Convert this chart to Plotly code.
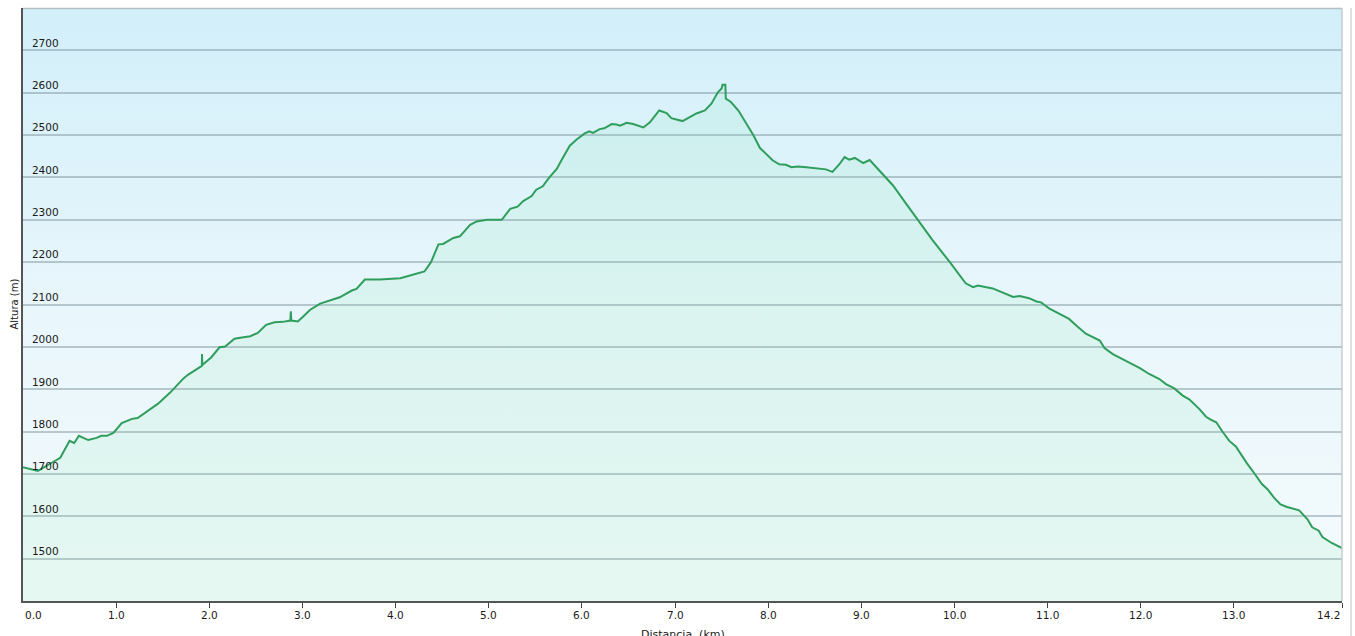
import base64
import plotly.graph_objects as go

distance_km = [
    0.00, 0.16, 0.29, 0.40, 0.50, 0.55, 0.60, 0.70, 0.79, 0.84, 0.90, 0.97,
    1.06, 1.17, 1.23, 1.34, 1.45, 1.58, 1.72, 1.77, 1.87, 1.92, 1.922, 1.925,
    2.02, 2.11, 2.17, 2.27, 2.35, 2.44, 2.52, 2.61, 2.70, 2.79, 2.87, 2.875,
    2.88, 2.95, 3.00, 3.08, 3.19, 3.29, 3.40, 3.53, 3.58, 3.67, 3.83, 4.05,
    4.12, 4.22, 4.31, 4.38, 4.46, 4.51, 4.62, 4.69, 4.74, 4.80, 4.87, 4.98,
    5.08, 5.14, 5.23, 5.31, 5.37, 5.46, 5.51, 5.58, 5.64, 5.73, 5.80, 5.87,
    5.94, 6.03, 6.08, 6.12, 6.19, 6.24, 6.32, 6.37, 6.41, 6.48, 6.55, 6.66,
    6.73, 6.78, 6.83, 6.91, 6.96, 7.08, 7.16, 7.23, 7.32, 7.39, 7.46, 7.50,
    7.51, 7.54, 7.545, 7.60, 7.68, 7.77, 7.84, 7.91, 7.98, 8.05, 8.12, 8.19,
    8.25, 8.32, 8.41, 8.52, 8.62, 8.69, 8.76, 8.82, 8.87, 8.93, 9.02, 9.09,
    9.20, 9.34, 9.48, 9.62, 9.76, 9.95, 10.12, 10.20, 10.25, 10.41, 10.55,
    10.63, 10.70, 10.80, 10.88, 10.93, 11.02, 11.13, 11.23, 11.31, 11.41,
    11.56, 11.61, 11.70, 11.81, 11.88, 11.99, 12.09, 12.20, 12.27, 12.36,
    12.45, 12.52, 12.63, 12.70, 12.75, 12.81, 12.88, 12.95, 13.02, 13.07,
    13.14, 13.22, 13.30, 13.36, 13.43, 13.50, 13.57, 13.70, 13.79, 13.84,
    13.91, 13.95, 14.05, 14.16,
]
altitude_m = [
    1716, 1707, 1724, 1738, 1778, 1773, 1790, 1780, 1785, 1790, 1790, 1797,
    1820, 1830, 1832, 1849, 1866, 1892, 1925, 1934, 1948, 1955, 1983, 1957,
    1975, 1999, 2001, 2019, 2022, 2025, 2033, 2052, 2058, 2059, 2062, 2084,
    2062, 2060, 2070, 2087, 2102, 2109, 2117, 2133, 2137, 2159, 2159, 2162,
    2166, 2172, 2178, 2200, 2242, 2243, 2257, 2261, 2273, 2288, 2296, 2300,
    2300, 2300, 2326, 2331, 2344, 2356, 2371, 2379, 2397, 2420, 2448, 2475,
    2489, 2504, 2509, 2505, 2514, 2516, 2526, 2525, 2522, 2529, 2526, 2518,
    2530, 2544, 2558, 2552, 2540, 2533, 2542, 2551, 2558, 2574, 2601, 2610,
    2619, 2619, 2586, 2578, 2558, 2527, 2500, 2470, 2456, 2440, 2431, 2430,
    2424, 2426, 2424, 2422, 2419, 2413, 2430, 2448, 2442, 2446, 2434, 2441,
    2414, 2381, 2338, 2294, 2253, 2200, 2150, 2141, 2145, 2138, 2125,
    2118, 2120, 2115, 2107, 2105, 2090, 2078, 2066, 2050, 2031,
    2015, 1997, 1983, 1971, 1962, 1950, 1936, 1924, 1912, 1902,
    1885, 1876, 1853, 1835, 1828, 1822, 1799, 1778, 1765, 1747,
    1725, 1701, 1676, 1664, 1644, 1628, 1622, 1614, 1593, 1574,
    1566, 1551, 1537, 1525,
]
x_tick_values = [0, 1, 2, 3, 4, 5, 6, 7, 8, 9, 10, 11, 12, 13, 14.16]
x_tick_labels = ["0.0", "1.0", "2.0", "3.0", "4.0", "5.0", "6.0", "7.0",
                 "8.0", "9.0", "10.0", "11.0", "12.0", "13.0", "14.2"]
y_tick_values = [1500, 1600, 1700, 1800, 1900, 2000, 2100, 2200, 2300,
                 2400, 2500, 2600, 2700]
x_range = [0, 14.16]
y_range = [1400, 2800]

FONT = "DejaVu Sans"
TXT = "#1a1a1a"

# gradient background for the plotting area (SVG data URI)
svg = (
    '<svg xmlns="http://www.w3.org/2000/svg" width="100" height="100" '
    'preserveAspectRatio="none">'
    '<defs><linearGradient id="g" x1="0" y1="0" x2="0" y2="1">'
    '<stop offset="0" stop-color="#d2effa"/>'
    '<stop offset="0.5" stop-color="#e8f6fb"/>'
    '<stop offset="1" stop-color="#f5fbfd"/>'
    '</linearGradient></defs>'
    '<rect width="100" height="100" fill="url(#g)"/></svg>'
)
bg_uri = "data:image/svg+xml;base64," + base64.b64encode(svg.encode()).decode()

fig = go.Figure()
fig.add_trace(go.Scatter(
    x=distance_km, y=altitude_m, mode="lines",
    line=dict(color="#2f9e5c", width=2),
    fill="tozeroy", fillcolor="rgba(95,228,150,0.10)",
    hoverinfo="x+y", showlegend=False,
))

fig.add_layout_image(dict(
    source=bg_uri, xref="paper", yref="paper", x=0, y=1,
    sizex=1, sizey=1, sizing="stretch", xanchor="left", yanchor="top",
    layer="below",
))

annotations = [
    dict(text="Altura (m)", xref="paper", yref="paper", x=0, y=0.5,
         xanchor="center", yanchor="middle", xshift=-9, textangle=-90,
         showarrow=False, font=dict(family=FONT, size=10, color=TXT)),
    dict(text="Distancia\u00a0 (km)", xref="paper", yref="paper", x=0.5,
         y=0, xanchor="center", yanchor="top", yshift=-25,
         showarrow=False, font=dict(family=FONT, size=11, color=TXT)),
]
# x tick labels (drawn as text at the axis tick positions)
n_ticks = len(x_tick_values)
for i, (v, lab) in enumerate(zip(x_tick_values, x_tick_labels)):
    anchor = "left" if i == 0 else ("right" if i == n_ticks - 1 else "center")
    annotations.append(dict(
        text=lab, xref="x", yref="paper", x=v, y=0, xanchor=anchor,
        yanchor="middle", yshift=-14, showarrow=False,
        font=dict(family=FONT, size=10.5, color=TXT)))

fig.update_layout(
    width=1355, height=636,
    margin=dict(l=23, r=13, t=8, b=35, autoexpand=False),
    paper_bgcolor="white",
    plot_bgcolor="rgba(0,0,0,0)",
    font=dict(family=FONT, size=10.5, color=TXT),
    xaxis=dict(
        range=x_range, tickmode="array", tickvals=x_tick_values,
        ticktext=x_tick_labels, showticklabels=False,
        showgrid=False, zeroline=False,
        ticks="outside", ticklen=5, tickcolor="#444", tickwidth=1,
        showline=True, linecolor="#555", linewidth=2, automargin=False,
    ),
    yaxis=dict(
        range=y_range, tickmode="array", tickvals=y_tick_values,
        showgrid=True, gridcolor="rgba(120,140,150,0.45)", gridwidth=1.5,
        zeroline=False, ticks="", ticklabelposition="inside top",
        ticklabelstandoff=7, automargin=False,
        showline=True, linecolor="#555", linewidth=2,
        tickfont=dict(family=FONT, size=10.5, color=TXT),
    ),
    shapes=[
        dict(type="line", xref="paper", yref="paper", x0=0, x1=1, y0=0.999, y1=0.999,
             line=dict(color="#b4bec2", width=1.5)),
        dict(type="line", xref="paper", yref="paper", x0=1, x1=1, y0=0, y1=1,
             line=dict(color="#c4ccd0", width=1.5)),
        dict(type="line", xref="paper", yref="paper", x0=1.0068, x1=1.0068,
             y0=-0.06, y1=1.0, line=dict(color="#d6d6d6", width=1.5)),
    ],
    annotations=annotations,
)

# remove the default 8px page margin so the 1355x636 figure fills the window
fig.write_html("out.html",
               config={"displayModeBar": False},
               post_script="document.body.style.margin='0px';"
                           "document.documentElement.style.overflow='hidden';")
